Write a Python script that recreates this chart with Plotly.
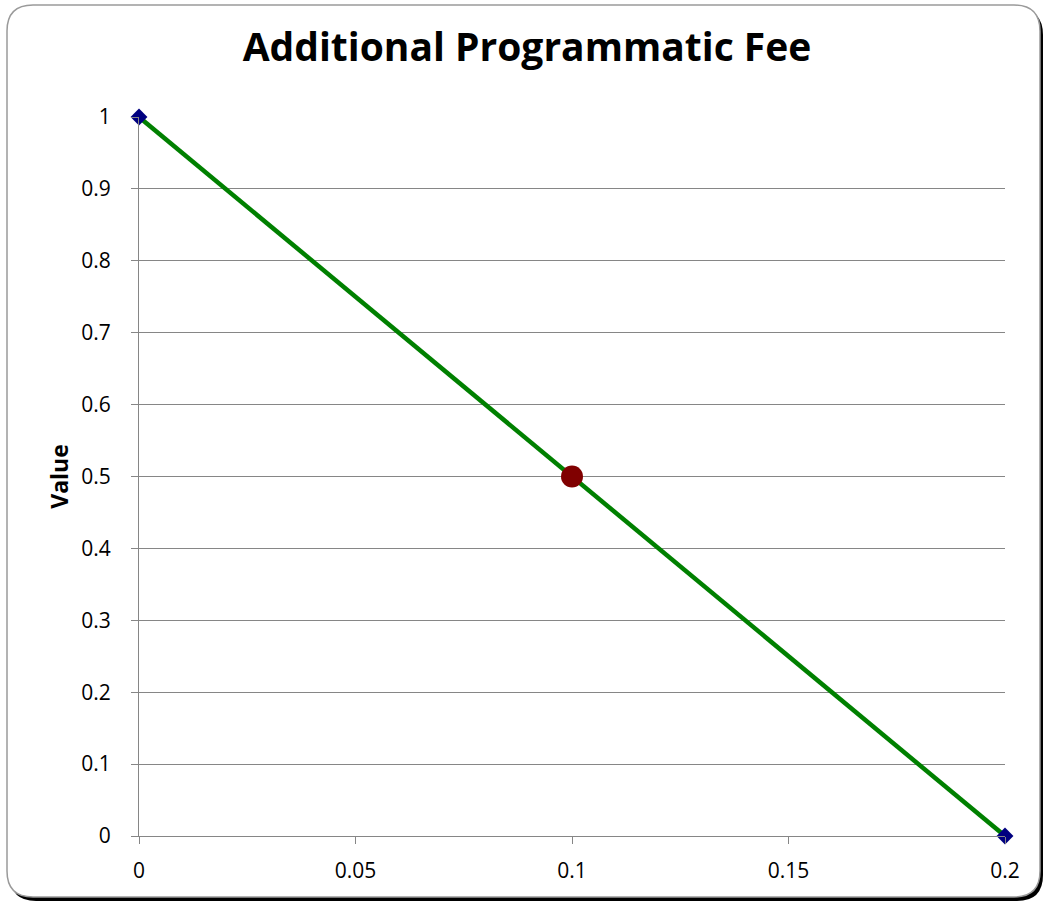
import plotly.graph_objects as go

# Fee schedule: value falls linearly from 1 at 0 to 0 at 0.2
fee_x = [0, 0.2]
fee_value = [1, 0]

# Highlighted operating point
point_x = [0.1]
point_value = [0.5]

x_ticks = [0, 0.05, 0.1, 0.15, 0.2]
x_tick_text = ["0", "0.05", "0.1", "0.15", "0.2"]
y_ticks = [0, 0.1, 0.2, 0.3, 0.4, 0.5, 0.6, 0.7, 0.8, 0.9, 1]
y_tick_text = ["0", "0.1", "0.2", "0.3", "0.4", "0.5", "0.6", "0.7", "0.8", "0.9", "1"]

W, H = 1045, 907
ML, MR, MT, MB = 139, 40, 117, 71
PW, PH = W - ML - MR, H - MT - MB

FONT = "Open Sans, Noto Sans, sans-serif"

fig = go.Figure()
fig.add_trace(go.Scatter(
    x=fee_x, y=fee_value, mode="lines+markers",
    line=dict(color="#008000", width=4.5),
    marker=dict(symbol="diamond", size=13, color="#000080"),
    showlegend=False, cliponaxis=False,
))
fig.add_trace(go.Scatter(
    x=point_x, y=point_value, mode="markers",
    marker=dict(symbol="circle", size=22, color="#800000"),
    showlegend=False, cliponaxis=False,
))


def px(x):
    return (x - ML) / PW


def py(y):
    return (H - MB - y) / PH


def rounded_rect(x0, y0, x1, y1, r):
    # path in pixel space converted to paper coordinates
    pts = [
        f"M {px(x0 + r)},{py(y0)}",
        f"L {px(x1 - r)},{py(y0)}",
        f"Q {px(x1)},{py(y0)} {px(x1)},{py(y0 + r)}",
        f"L {px(x1)},{py(y1 - r)}",
        f"Q {px(x1)},{py(y1)} {px(x1 - r)},{py(y1)}",
        f"L {px(x0 + r)},{py(y1)}",
        f"Q {px(x0)},{py(y1)} {px(x0)},{py(y1 - r)}",
        f"L {px(x0)},{py(y0 + r)}",
        f"Q {px(x0)},{py(y0)} {px(x0 + r)},{py(y0)}",
        "Z",
    ]
    return " ".join(pts)


shapes = [
    # drop shadow of the chart frame
    dict(type="path", xref="paper", yref="paper", layer="below",
         path=rounded_rect(10, 9, 1043, 901, 26),
         fillcolor="#000000", line=dict(width=0)),
    # chart frame
    dict(type="path", xref="paper", yref="paper", layer="below",
         path=rounded_rect(7, 5, 1040, 897, 26),
         fillcolor="#ffffff", line=dict(color="#9a9a9a", width=1.5)),
]

fig.update_layout(
    width=W, height=H,
    margin=dict(l=ML, r=MR, t=MT, b=MB),
    paper_bgcolor="rgba(0,0,0,0)", plot_bgcolor="rgba(0,0,0,0)",
    font=dict(family=FONT, color="#000000", size=21),
    title=dict(text="<b>Additional Programmatic Fee</b>", x=527 / W,
               xref="container", xanchor="center", y=1 - 47 / H,
               yref="container", yanchor="middle",
               font=dict(family=FONT, size=39, color="#000000")),
    shapes=shapes,
    xaxis=dict(range=[0, 0.2], tickvals=x_ticks, ticktext=x_tick_text,
               showgrid=False, zeroline=False, showline=True,
               linecolor="#868686", linewidth=1, ticks="outside",
               ticklen=7, tickcolor="#868686",
               tickfont=dict(family=FONT, size=21), ticklabelstandoff=9),
    yaxis=dict(range=[0, 1], tickvals=y_ticks, ticktext=y_tick_text,
               showgrid=True, gridcolor="#868686", gridwidth=1,
               zeroline=False, showline=True, linecolor="#868686",
               linewidth=1, ticks="outside", ticklen=7,
               tickcolor="#868686", tickfont=dict(family=FONT, size=21),
               ticklabelstandoff=16,
               title=dict(text="<b>Value</b>",
                          font=dict(family=FONT, size=23), standoff=6)),
)

fig.write_html("out.html")
